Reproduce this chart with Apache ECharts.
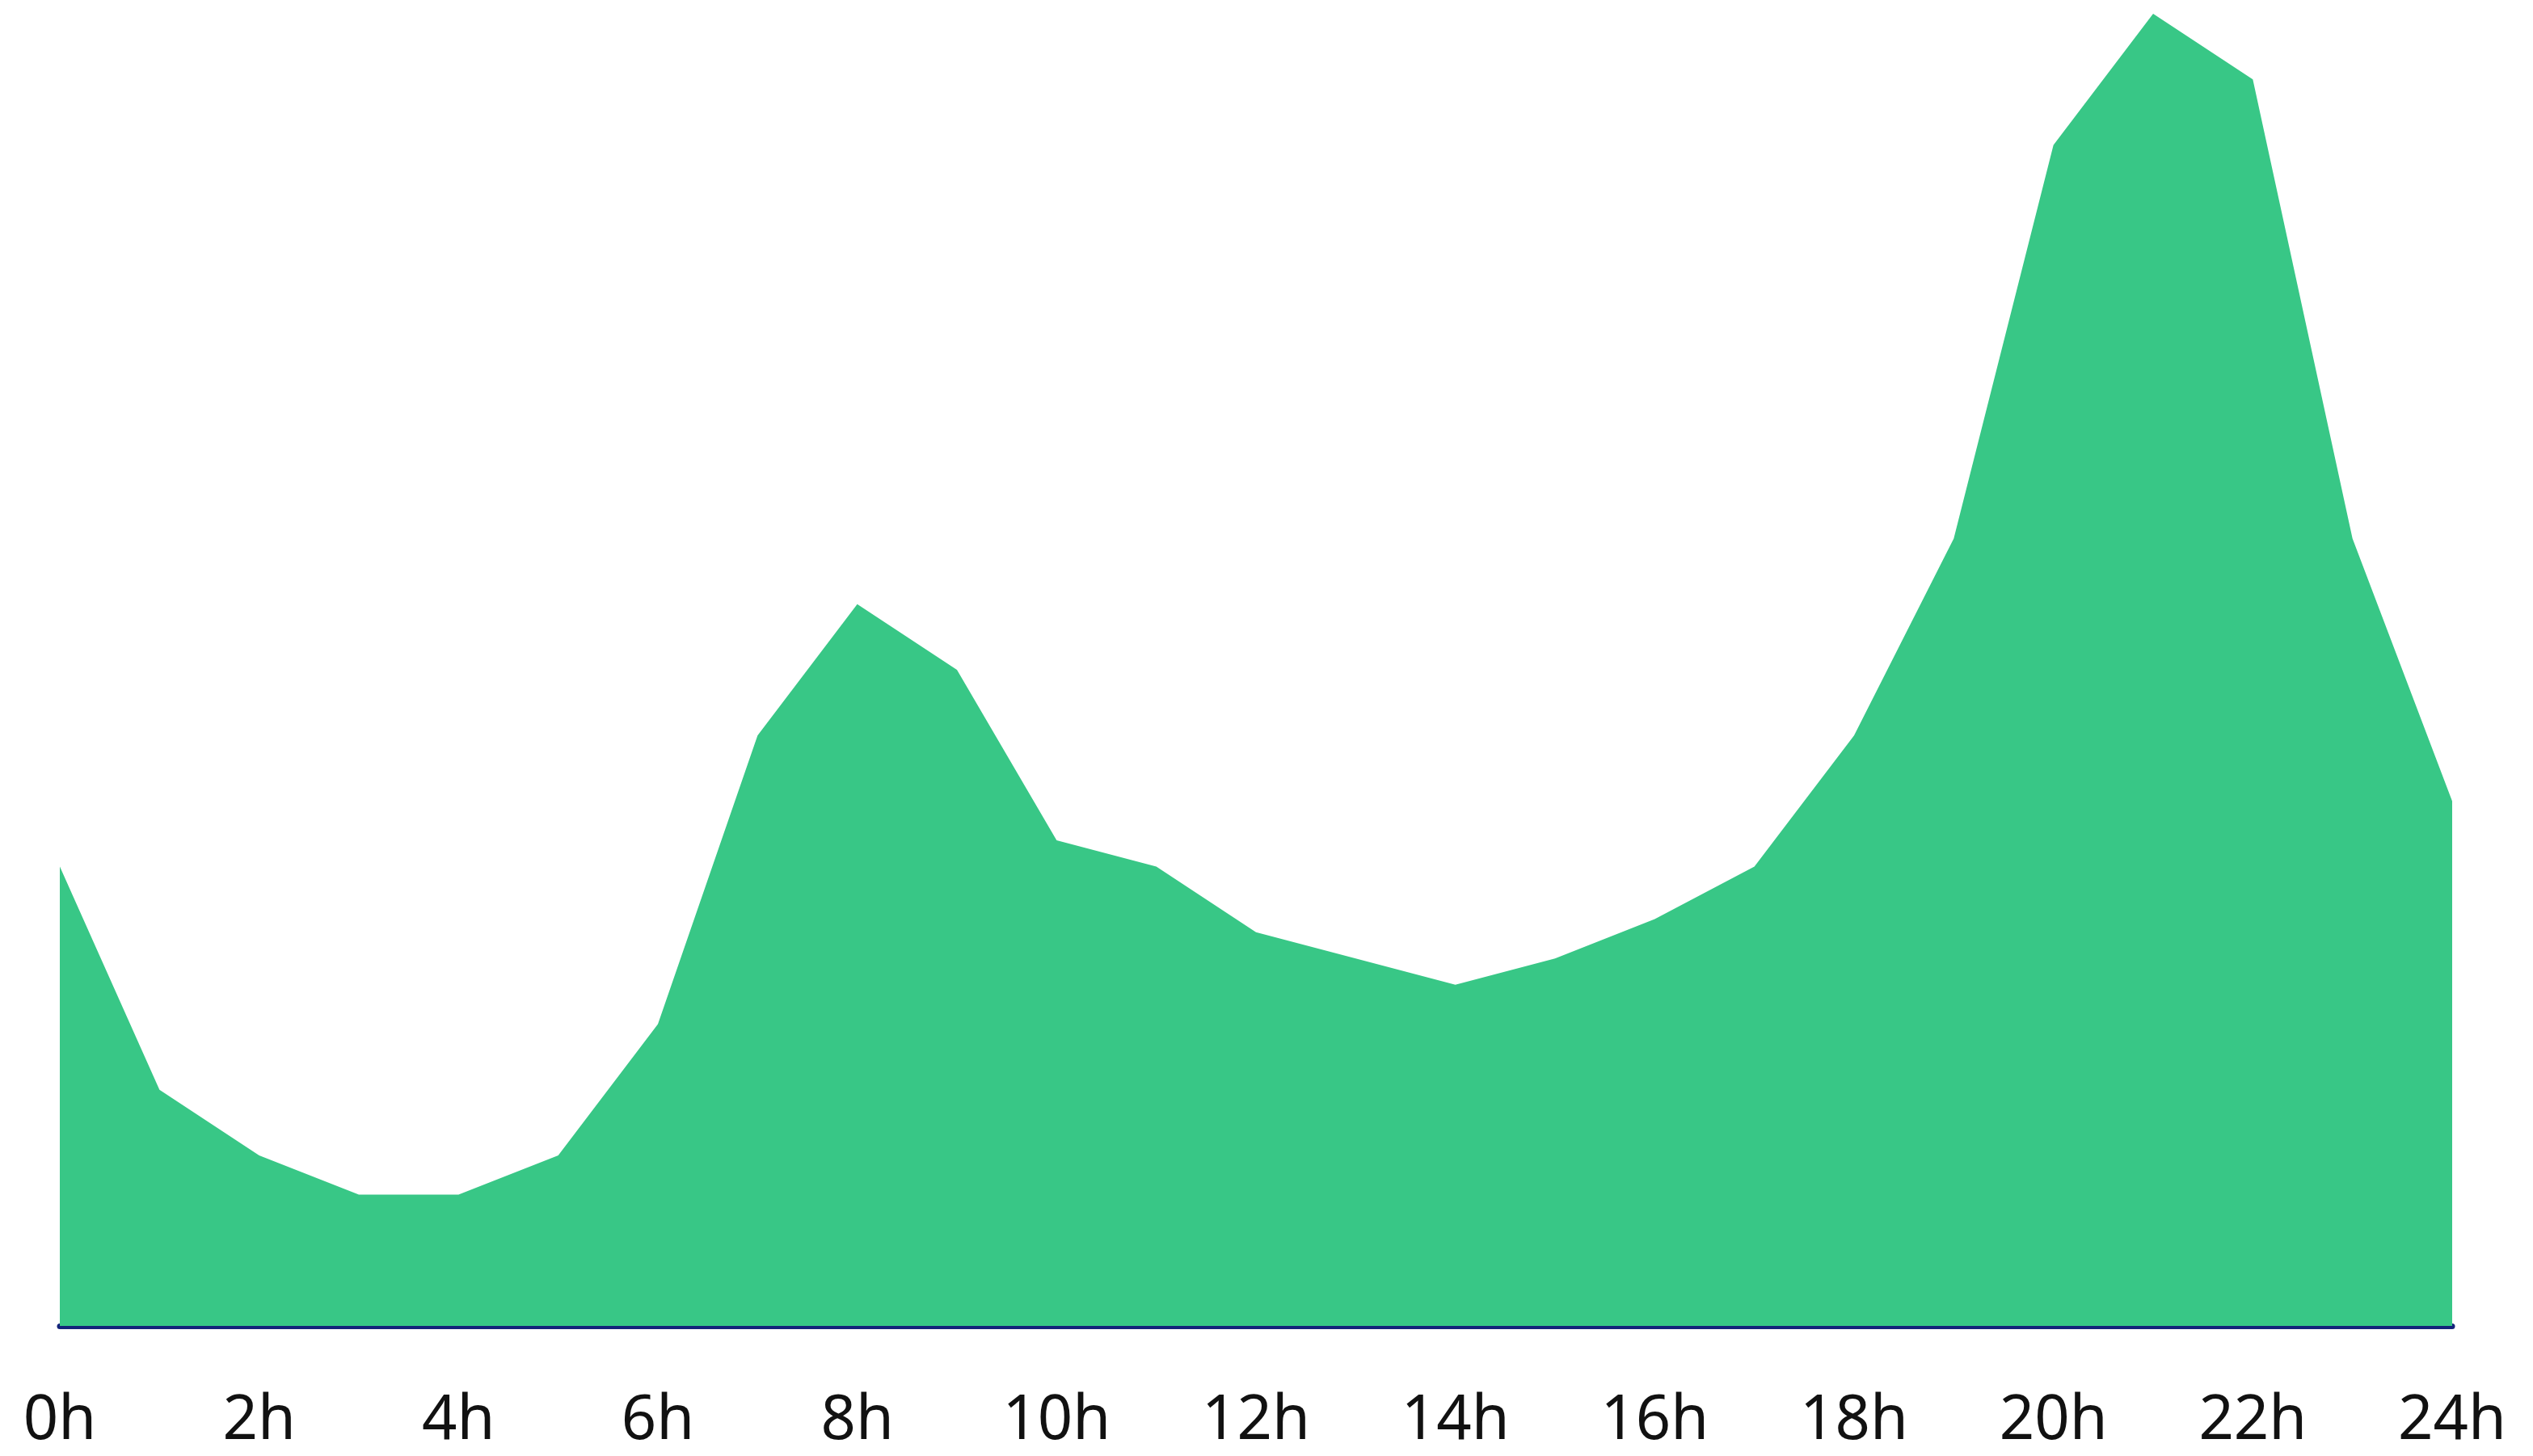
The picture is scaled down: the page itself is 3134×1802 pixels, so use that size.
<!DOCTYPE html>
<html>
<head>
<meta charset="utf-8">
<script src="https://cdn.jsdelivr.net/npm/echarts@6/dist/echarts.min.js"></script>
<style>
html,body{margin:0;padding:0;background:#fff;}
#chart{width:3134px;height:1802px;}
</style>
</head>
<body>
<div id="chart"></div>
<script>
const hours = ['0h','1h','2h','3h','4h','5h','6h','7h','8h','9h','10h','11h','12h','13h','14h','15h','16h','17h','18h','19h','20h','21h','22h','23h','24h'];
const values = [35,18,13,10,10,13,23,45,55,50,37,35,30,28,26,28,31,35,45,60,90,100,95,60,40];

const chart = echarts.init(document.getElementById('chart'));
chart.setOption({
  animation: false,
  backgroundColor: '#ffffff',
  grid: { left: 74, right: 100, top: 17, bottom: 161, containLabel: false },
  xAxis: {
    type: 'category',
    data: hours,
    boundaryGap: false,
    axisLine: { show: true, lineStyle: { color: '#13237a', width: 7 } },
    axisTick: { show: false },
    splitLine: { show: false },
    axisLabel: {
      interval: 1,
      color: '#111111',
      fontSize: 76,
      fontFamily: 'Noto Sans',
      margin: 80
    }
  },
  yAxis: {
    type: 'value',
    min: 0,
    max: 100,
    show: false,
    splitLine: { show: false }
  },
  series: [{
    type: 'line',
    data: values,
    symbol: 'none',
    lineStyle: { width: 0 },
    areaStyle: { color: '#38c786', opacity: 1 },
    itemStyle: { color: '#38c786' }
  }]
});
</script>
</body>
</html>
